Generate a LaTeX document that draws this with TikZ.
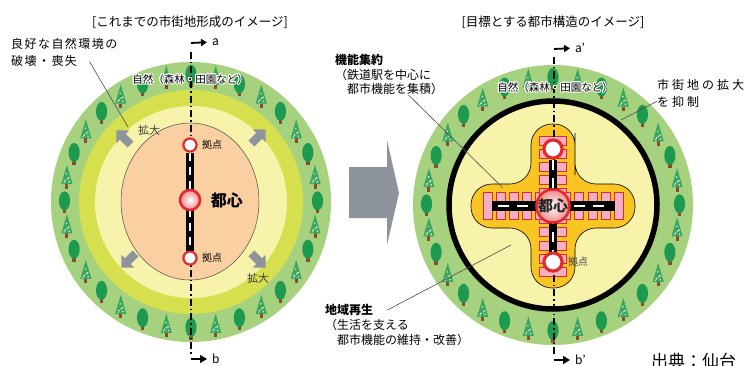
\documentclass[tikz,border=0pt]{standalone}
\usepackage{fontspec}
\setmainfont{Noto Sans CJK JP}
\usepackage{contour}
\contourlength{1.1pt}
\contournumber{12}
\usetikzlibrary{
  arrows.meta,
  positioning,
  shapes.arrows,
}
\definecolor{natgreen}{RGB}{166, 210, 128}
\definecolor{ringlime}{RGB}{214, 224, 78}
\definecolor{paleyel}{RGB}{247, 243, 171}
\definecolor{peach}{RGB}{250, 207, 161}
\definecolor{leafgreen}{RGB}{30, 154, 80}
\definecolor{firgreen}{RGB}{58, 168, 92}
\definecolor{trunk}{RGB}{142, 75, 42}
\definecolor{crossyel}{RGB}{249, 197, 35}
\definecolor{pinkbox}{RGB}{244, 175, 197}
\definecolor{redring}{RGB}{229, 40, 44}
\definecolor{arrowgray}{RGB}{142, 148, 156}

\tikzstyle{kyoten} = [circle, draw=redring, line width=2pt, fill=white, minimum size=13pt, inner sep=0pt]
\tikzstyle{toshin} = [circle, draw=redring, line width=2.5pt, inner color=white, outer color=redring!55, minimum size=20pt, inner sep=0pt]
\tikzstyle{rail} = [line width=8pt, black]
\tikzstyle{raildash} = [line width=2.5pt, white, dash pattern=on 8pt off 6pt]
\tikzstyle{axis} = [line width=1.4pt, dash pattern=on 7pt off 3pt on 1.5pt off 3pt]
\tikzstyle{leader} = [draw=black!70, line width=0.6pt]
\tikzstyle{note} = [align=left, inner sep=0pt, anchor=north west, font=\fontsize{12}{17}\selectfont]
\tikzstyle{expand} = [single arrow, fill=arrowgray, minimum height=20pt, minimum width=18pt, single arrow head extend=2pt, inner sep=1.5pt]
\tikzstyle{boxrow} = [fill=pinkbox, draw=redring, line width=0.6pt]
\tikzstyle{axislabel} = [anchor=west, inner sep=0pt, font=\fontsize{12}{12}\selectfont]

\tikzset{
  broadleaf/.pic={
    \fill[trunk] (-1.5,-10) rectangle (1.5,-3);
    \fill[leafgreen] (0,1) ellipse (5 and 8.5);
  },
  conifer/.pic={
    \fill[trunk] (-1.3,-10) rectangle (1.3,-6);
    \fill[firgreen] (-5,-6) -- (5,-6) -- (0,11) -- cycle;
    \fill[white] (-1.5,-3) circle (0.8) (1.6,-0.5) circle (0.8) (-0.4,3) circle (0.7)
      (2,-4) circle (0.7) (0.3,-1.5) circle (0.6) (-2.5,-4.5) circle (0.6);
  },
}

\begin{document}
\begin{tikzpicture}[x=1pt, y=1pt]
  \clip (0,0) rectangle (752,365);
  \fill[white] (0,0) rectangle (752,365);

  \coordinate (cL) at (191,163);
  \coordinate (cR) at (553,160);

  % titles
  \node[font=\fontsize{12.5}{14}\selectfont] (titleL) at (190,343) {[これまでの市街地形成のイメージ]};
  \node[font=\fontsize{12.5}{14}\selectfont] (titleR) at (553,343) {[目標とする都市構造のイメージ]};

  % left: rings
  \fill[natgreen] (cL) circle (140);
  \fill[ringlime] (cL) circle (112);
  \fill[paleyel] (cL) circle (96);

  % right: rings
  \fill[natgreen] (cR) circle (140);

  % trees in the green belt
  \foreach \c in {cL,cR}{
    \foreach \i in {0,...,31}{
      \pgfmathsetmacro\ang{\i*11.25}
      \ifodd\i
        \path (\c) ++(\ang:126.5) pic[scale=1.12] {conifer};
      \else
        \path (\c) ++(\ang:126.5) pic[scale=1.12] {broadleaf};
      \fi
    }
  }

  \filldraw[fill=paleyel, draw=black, line width=5.5pt] (cR) circle (104);
  \filldraw[fill=peach, draw=black!70, line width=0.5pt] (190,163.5) ellipse (69 and 78.5);

  % expansion arrows
  \node[expand, rotate=135] (exTL) at (125,226) {};
  \node[expand, rotate=45] (exTR) at (257,227) {};
  \node[expand, rotate=225] (exBL) at (130,106) {};
  \node[expand, rotate=315] (exBR) at (257,106) {};
  \node[font=\fontsize{11}{12}\selectfont, text=black!75] (kakuTL) at (149,235) {拡大};
  \node[font=\fontsize{11}{12}\selectfont, text=black!75] (kakuBR) at (258,87) {拡大};

  % cross-shaped core area
  \filldraw[fill=crossyel, draw=black, line width=0.6pt, rounded corners=21pt]
    (575,211) -- (575,181) -- (635,181) -- (635,137) -- (575,137)
    -- (575,77) -- (531,77) -- (531,137) -- (471,137) -- (471,181) -- (531,181)
    -- (531,241) -- (575,241) -- cycle;
  \foreach \k in {-5,...,5}{
    \filldraw[boxrow] ({539.5},{159+\k*13.1-4.5}) rectangle ++(27,9);
    \filldraw[boxrow] ({553+\k*13.1-4.5},{145.5}) rectangle ++(9,27);
  }

  % a-b axes
  \coordinate (aL) at (191,322);
  \coordinate (bL) at (191,6);
  \node[axislabel] (aLtxt) at (212,323) {a};
  \node[axislabel] (bLtxt) at (212,6) {b};
  \draw[axis] (191,313) -- (191,10);
  \draw[line width=1.8pt, -{Triangle[length=6pt,width=7pt]}, shorten >=5pt] (aL) -- (aLtxt.west);
  \draw[line width=1.4pt, -{Triangle[length=7pt,width=8pt]}, shorten >=5pt] (bL) -- (bLtxt.west);

  \coordinate (aR) at (554,316);
  \coordinate (bR) at (554,5);
  \node[axislabel] (aRtxt) at (575,317) {a’};
  \node[axislabel] (bRtxt) at (575,5) {b’};
  \draw[axis] (554,308) -- (554,9);
  \draw[line width=1.8pt, -{Triangle[length=6pt,width=7pt]}, shorten >=5pt] (aR) -- (aRtxt.west);
  \draw[line width=1.4pt, -{Triangle[length=7pt,width=8pt]}, shorten >=5pt] (bR) -- (bRtxt.west);

  % nature labels over the axes
  \node[font=\fontsize{10.5}{12}\selectfont] (natL) at (190,285) {\contour{white}{自然（森林・田園など）}};
  \node[font=\fontsize{10.5}{12}\selectfont] (natR) at (555,277) {\contour{white}{自然（森林・田園など）}};

  % left: railway and centres
  \node[kyoten] (kyL1) at (190,220) {};
  \node[kyoten] (kyL2) at (190,107) {};
  \draw[rail] (kyL1) -- (kyL2);
  \draw[raildash] (kyL1.south) -- (kyL2.north);
  \node[kyoten] at (kyL1) {};
  \node[kyoten] at (kyL2) {};
  \node[toshin] (toL) at (190,165) {};
  \node[font=\fontsize{10}{11}\selectfont, right=1pt of kyL1] (kyL1txt) {拠点};
  \node[font=\fontsize{10}{11}\selectfont, right=1pt of kyL2] (kyL2txt) {拠点};
  \node[font=\bfseries\fontsize{16}{18}\selectfont, right=6pt of toL] (toLtxt) {都心};

  % right: railway and centres
  \node[kyoten, line width=3pt, minimum size=18pt] (kyR1) at (553,216) {};
  \node[kyoten, line width=3pt, minimum size=18pt] (kyR2) at (553,103) {};
  \node[toshin, minimum size=30pt] (toR) at (553,159) {};
  \coordinate (railW) at (492,159);
  \coordinate (railE) at (615,159);
  \draw[rail, line width=10pt] (railW) -- (railE);
  \draw[raildash, dash pattern=on 11pt off 8pt] ([xshift=6pt]railW) -- ([xshift=-6pt]railE);
  \draw[rail] (kyR1) -- (kyR2);
  \draw[raildash, dash pattern=on 10pt off 8pt] (kyR1.south) -- (kyR2.north);
  \node[kyoten, line width=3pt, minimum size=18pt] at (kyR1) {};
  \node[kyoten, line width=3pt, minimum size=18pt] at (kyR2) {};
  \node[toshin, minimum size=30pt, font=\bfseries\fontsize{15}{16}\selectfont, text=black!85] at (toR) {都心};
  \node[font=\fontsize{10}{11}\selectfont, text=black!75] (kyR2txt) at (578,103) {拠点};

  % big arrow between the two images
  \fill[arrowgray] (349,198) -- (387,198) -- (387,225) -- (399,172) -- (387,120)
    -- (387,147) -- (349,147) -- cycle;

  % notes and leaders
  \node[note, font=\addfontfeature{LetterSpace=12}\fontsize{12}{17}\selectfont] (noteL) at (11,327) {良好な自然環境の\\破壊・喪失};
  \coordinate (noteLtip) at (128,238);
  \draw[leader] ([xshift=-28pt,yshift=5pt]noteL.south east) -- (noteLtip);

  \node[note, font=\fontsize{12}{14.5}\selectfont] (shuyaku) at (335,311) {{\bfseries 機能集約}\\（鉄道駅を中心に\\　都市機能を集積）};
  \coordinate (shuyakuTip) at (503,177);
  \draw[leader] ([xshift=-35pt]shuyaku.south east) -- (shuyakuTip);

  \node[note, font=\addfontfeature{LetterSpace=25}\fontsize{12}{17}\selectfont] (yokusei) at (657,286) {市街地の拡大\\を抑制};
  \coordinate (yokuseiTip) at (621,245);
  \draw[leader] ([yshift=-8pt]yokusei.west) -- (yokuseiTip);

  \node[note, font=\fontsize{12}{15}\selectfont] (saisei) at (325,61) {{\bfseries 地域再生}\\（生活を支える\\　都市機能の維持・改善）};
  \coordinate (saiseiTip) at (511,120);
  \draw[leader] ([xshift=-82pt,yshift=-6pt]saisei.north east) -- (saiseiTip);

  % source, running off the page
  \node[anchor=north west, inner sep=0pt, font=\fontsize{17}{18}\selectfont] (source) at (651,12) {出典：仙台};
\end{tikzpicture}
\end{document}
